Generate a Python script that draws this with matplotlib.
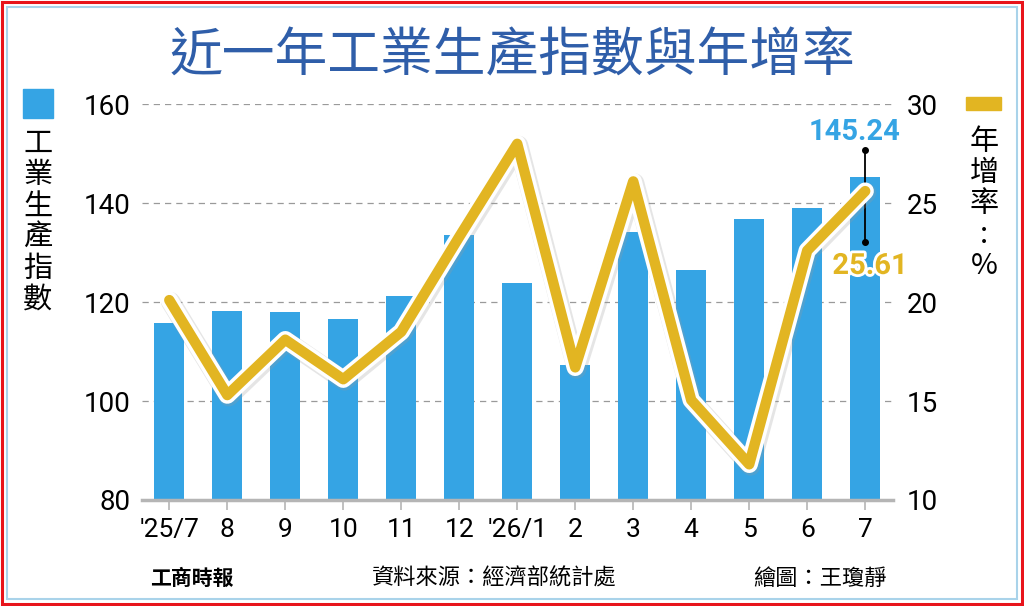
import matplotlib
matplotlib.use("Agg")
import matplotlib.pyplot as plt
import matplotlib.patheffects as pe
from matplotlib.patches import Rectangle

plt.rcParams['font.family'] = ['Noto Sans CJK TC', 'DejaVu Sans']

# data
months = ["'25/7", "8", "9", "10", "11", "12", "'26/1", "2", "3", "4", "5", "6", "7"]
index_vals = [115.8, 118.2, 117.9, 116.6, 121.3, 133.5, 123.9, 107.2, 134.2, 126.5, 136.7, 139.1, 145.24]
yoy_vals = [20.1, 15.3, 18.1, 16.1, 18.5, 23.3, 28.0, 16.7, 26.1, 15.05, 11.8, 22.6, 25.61]
left_ticks = [80, 100, 120, 140, 160]
right_ticks = [10, 15, 20, 25, 30]

BLUE = '#35a4e4'
GOLD = '#e2b522'
TITLE_BLUE = '#2f5ea9'
NUM_FONT = ['Roboto', 'DejaVu Sans']

fig = plt.figure(figsize=(10.24, 6.06), dpi=100)
fig.patch.set_facecolor('white')

# borders
fig.patches.append(Rectangle((0.002, 0.003), 0.996, 0.994, transform=fig.transFigure,
                             fill=False, edgecolor='#e8141b', linewidth=2.2))
fig.patches.append(Rectangle((0.0065, 0.012), 0.987, 0.976, transform=fig.transFigure,
                             fill=False, edgecolor='#a9d3ea', linewidth=1.5))

ax = fig.add_axes([0.1387, 0.175, 0.7334, 0.653])
x = list(range(len(months)))

ax.bar(x, index_vals, width=0.52, color=BLUE, zorder=2)
ax.set_ylim(80, 160)
ax.set_xlim(-0.47, 12.48)
ax.set_yticks(left_ticks)
ax.set_yticklabels([str(v) for v in left_ticks], family=NUM_FONT, fontsize=20)
ax.set_xticks(x)
ax.set_xticklabels(months, family=NUM_FONT, fontsize=19)
ax.tick_params(axis='y', length=0, pad=8)
ax.tick_params(axis='x', length=7, width=1.2, color='#b5b5b5', pad=6, direction='out')
ax.grid(axis='y', linestyle=(0, (5, 4)), color='#9a9a9a', linewidth=0.9, zorder=0)
for s in ['top', 'right', 'left']:
    ax.spines[s].set_visible(False)
ax.spines['bottom'].set_color('#b5b5b5')
ax.spines['bottom'].set_linewidth(2.5)

ax2 = ax.twinx()
ax2.set_ylim(10, 30)
ax2.set_yticks(right_ticks)
ax2.set_yticklabels([str(v) for v in right_ticks], family=NUM_FONT, fontsize=20)
ax2.tick_params(axis='y', length=0, pad=10)
for s in ax2.spines.values():
    s.set_visible(False)

ax2.plot(x, yoy_vals, color=GOLD, linewidth=7.5, solid_joinstyle='round',
         solid_capstyle='round', zorder=3,
         path_effects=[pe.SimpleLineShadow(offset=(1, -1.2), shadow_color='#999999', alpha=0.25, linewidth=14),
                       pe.Stroke(linewidth=12.5, foreground='white'),
                       pe.Normal()])

# callout on the last month
ax.plot([12, 12], [132.1, 150.7], color='black', linewidth=1.3, zorder=5)
ax.plot([12, 12], [132.1, 150.7], 'o', color='black', markersize=4, zorder=5)
ax.text(11.82, 154.3, '145.24', color=BLUE, fontsize=21, fontweight='bold',
        family=NUM_FONT, ha='center', va='center', zorder=6)
ax.text(12.08, 127.3, '25.61', color=GOLD, fontsize=21, fontweight='bold',
        family=NUM_FONT, ha='center', va='center', zorder=6,
        path_effects=[pe.withStroke(linewidth=4, foreground='white')])

# title
fig.text(0.5, 0.908, '近一年工業生產指數與年增率', ha='center', va='center',
         fontsize=38, fontweight='medium', color=TITLE_BLUE)

# left legend and label
fig.patches.append(Rectangle((23 / 1024, 1 - 118 / 606), 30 / 1024, 29 / 606,
                             transform=fig.transFigure, color=BLUE))
fig.text(38 / 1024, 1 - 222 / 606, '\n'.join('工業生產指數'), ha='center', va='center',
         fontsize=21, linespacing=1.05)

# right legend and label
fig.patches.append(Rectangle((966 / 1024, 1 - 110 / 606), 35 / 1024, 13 / 606,
                             transform=fig.transFigure, color=GOLD))
fig.text(984 / 1024, 1 - 204 / 606, '年\n增\n率\n:\n%', ha='center', va='center',
         fontsize=21, linespacing=1.05)

# footer
fig.text(192 / 1024, 1 - 578 / 606, '工商時報', ha='center', va='center',
         fontsize=15, fontweight='heavy')
fig.text(494 / 1024, 1 - 578 / 606, '資料來源：經濟部統計處', ha='center', va='center',
         fontsize=16)
fig.text(820 / 1024, 1 - 578 / 606, '繪圖：王瓊靜', ha='center', va='center',
         fontsize=16)

fig.savefig('out.png', dpi=100)
